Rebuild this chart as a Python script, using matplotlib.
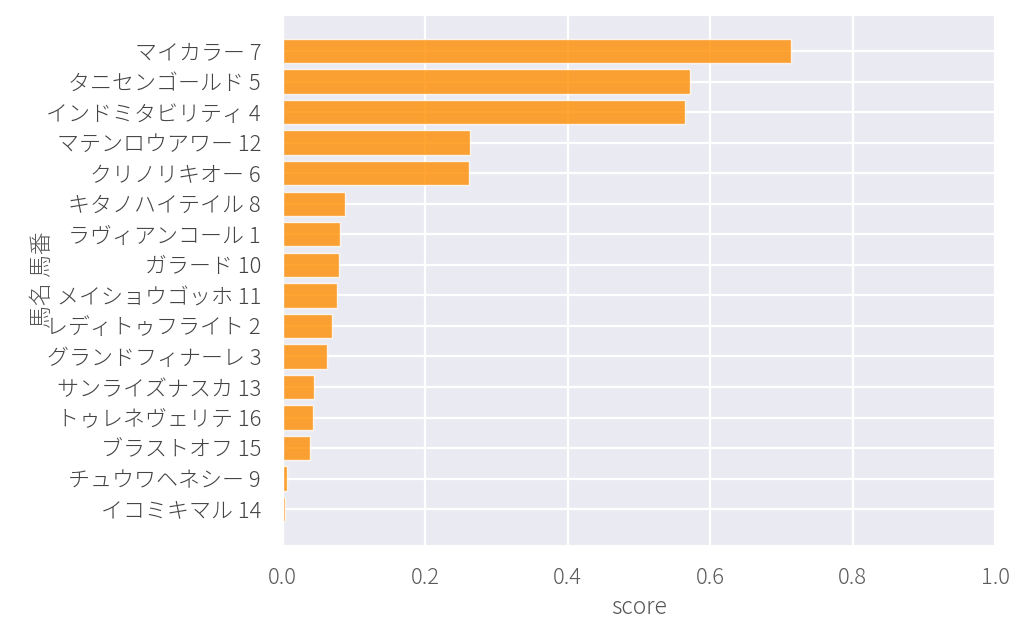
import matplotlib
matplotlib.use("Agg")
import matplotlib.pyplot as plt
from matplotlib import font_manager as fm
import seaborn as sns

# horse name + number, top to bottom
horses = ["マイカラー 7", "タニセンゴールド 5", "インドミタビリティ 4", "マテンロウアワー 12",
          "クリノリキオー 6", "キタノハイテイル 8", "ラヴィアンコール 1", "ガラード 10",
          "メイショウゴッホ 11", "レディトゥフライト 2", "グランドフィナーレ 3", "サンライズナスカ 13",
          "トゥレネヴェリテ 16", "ブラストオフ 15", "チュウワヘネシー 9", "イコミキマル 14"]
scores = [0.713, 0.571, 0.564, 0.263, 0.261, 0.087, 0.080, 0.079,
          0.076, 0.069, 0.062, 0.044, 0.042, 0.038, 0.006, 0.003]

sns.set_style("darkgrid")
plt.rcParams['font.family'] = ['Noto Sans CJK JP', 'DejaVu Sans']
plt.rcParams['font.weight'] = 'light'
plt.rcParams['grid.linewidth'] = 1.6

light = fm.findfont(fm.FontProperties(family='Noto Sans CJK JP', weight=300))
tick_fp = fm.FontProperties(fname=light, size=15.8)
label_fp = fm.FontProperties(fname=light, size=16.5)

fig, ax = plt.subplots(figsize=(10.24, 6.38), dpi=100)
fig.subplots_adjust(left=0.276, right=0.972, top=0.977, bottom=0.145)

ax.barh(horses, scores, height=0.8, color="darkorange", alpha=0.8,
        edgecolor="white", linewidth=1.0)
ax.invert_yaxis()
ax.set_xlim(0, 1)
ax.set_xticks([0.0, 0.2, 0.4, 0.6, 0.8, 1.0])
ax.tick_params(axis='x', pad=12, colors='#5a5a5a')
ax.tick_params(axis='y', pad=12, colors='#444444')
for lab in ax.get_xticklabels() + ax.get_yticklabels():
    lab.set_fontproperties(tick_fp)
ax.set_xlabel("score", fontproperties=label_fp, color='#555555')
ax.set_ylabel("馬名 馬番", fontproperties=label_fp, color='#555555', labelpad=-6)

fig.savefig("out.png", dpi=100)
